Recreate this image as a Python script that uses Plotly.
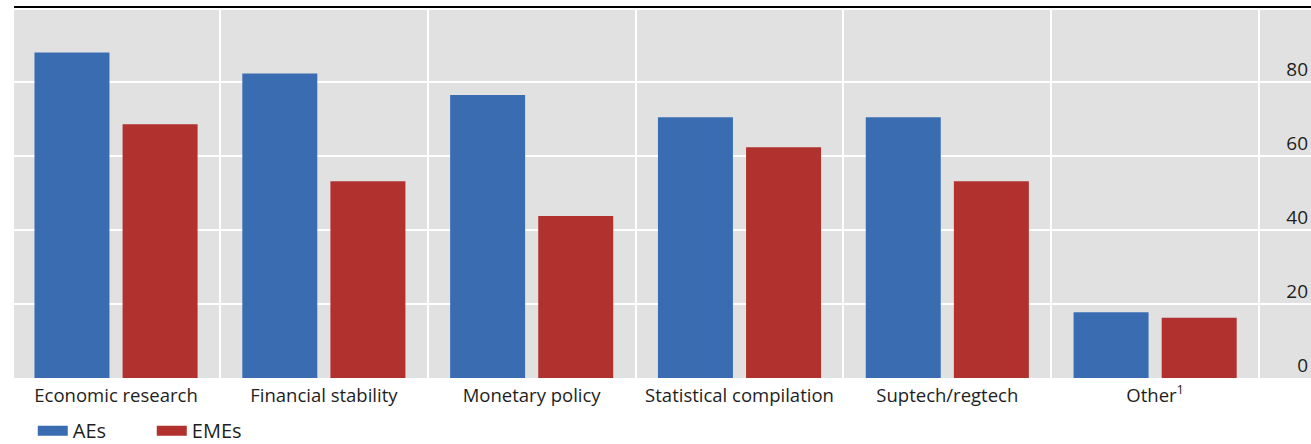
import plotly.graph_objects as go

# Share of central banks using big data, by area of use (%)
categories = ["Economic research", "Financial stability", "Monetary policy",
              "Statistical compilation", "Suptech/regtech", "Other<sup>1</sup>"]
aes = [88.0, 82.3, 76.5, 70.5, 70.5, 17.8]
emes = [68.6, 53.2, 43.8, 62.4, 53.2, 16.3]
y_ticks = [0, 20, 40, 60, 80]

BLUE = "#3a6cb2"
RED = "#b0312e"
BG = "#e1e1e1"
FONT = "Open Sans"
TXT = "#1e1e1e"

positions = list(range(len(categories)))

fig = go.Figure()
fig.add_trace(go.Bar(x=positions, y=aes, name="AEs", marker_color=BLUE,
                     marker_line_width=0, showlegend=False, legendgroup="ae"))
fig.add_trace(go.Bar(x=positions, y=emes, name="EMEs", marker_color=RED,
                     marker_line_width=0, showlegend=False, legendgroup="eme"))

# wide legend keys
for name, col, grp in [("AEs", BLUE, "ae"), ("EMEs", RED, "eme")]:
    fig.add_trace(go.Scatter(x=[None], y=[None], mode="lines", name=name,
                             line=dict(color=col, width=13), legendgroup=grp))

fig.update_layout(
    width=1311, height=444,
    margin=dict(l=14, r=0, t=10, b=66),
    paper_bgcolor="white", plot_bgcolor=BG,
    barmode="group", bargap=0.152, bargroupgap=0.149,
    font=dict(family=FONT, size=18, color=TXT),
    showlegend=True,
    legend=dict(orientation="h", xref="container", yref="container",
                x=0.025, y=0.03, xanchor="left", yanchor="middle",
                font=dict(size=20), bgcolor="rgba(0,0,0,0)",
                entrywidth=74, itemclick=False),
    xaxis=dict(range=[-0.491, 5.75], tickmode="array", tickvals=positions,
               ticktext=categories, showgrid=False, zeroline=False,
               ticks="", ticklabelstandoff=4,
               tickfont=dict(size=18.5, color=TXT),
               minor=dict(tick0=0.5, dtick=1, showgrid=True,
                          gridcolor="white", gridwidth=2, ticks="")),
    yaxis=dict(range=[0, 99.5], side="right", tickmode="array",
               tickvals=y_ticks, ticklabelposition="inside",
               ticklabelshift=-13, ticklabelstandoff=0, automargin=False,
               showgrid=True, gridcolor="white",
               gridwidth=2, zeroline=False, ticks="",
               tickfont=dict(size=19, color=TXT)),
    shapes=[dict(type="line", xref="paper", yref="paper", x0=0, x1=1,
                 y0=1, y1=1, ysizemode="pixel", yanchor=1,
                 line=dict(color="black", width=2))],
)
# move the top rule a few pixels above the plot area
fig.layout.shapes[0].update(y0=3, y1=3)

fig.write_html("out.html")
